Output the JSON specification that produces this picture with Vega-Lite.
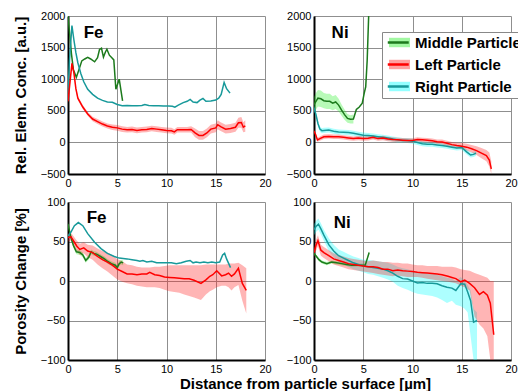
{
"$schema":"https://vega.github.io/schema/vega-lite/v6.json",
"padding":{"left":13,"top":10,"right":0,"bottom":0},
"config":{"font":"Liberation Sans","view":{"stroke":null},
"axis":{"grid":true,"gridColor":"#8f8f8f","gridWidth":1,"domainColor":"black","domainWidth":2,"ticks":false,"labelFontSize":11,"labelColor":"black","labelPadding":3,"labelFlush":false,"labelOverlap":false,"titleFontSize":15,"titleFontWeight":"bold","titleColor":"black","titlePadding":12}},
"datasets":{
"lab":[{"g":"c","p":"Fe","x":2.6,"y":1730},{"g":"c","p":"Ni","x":2.65,"y":1730},{"g":"p","p":"Fe","x":2.9,"y":80},{"g":"p","p":"Ni","x":2.87,"y":73.6}],
"c":[
{"p":"Fe","s":"M","x":0,"y":2000},{"p":"Fe","s":"M","x":0.15,"y":1750},{"p":"Fe","s":"M","x":0.35,"y":1400},{"p":"Fe","s":"M","x":0.55,"y":1150},{"p":"Fe","s":"M","x":0.85,"y":1030},{"p":"Fe","s":"M","x":1.15,"y":1170},{"p":"Fe","s":"M","x":1.4,"y":1290},{"p":"Fe","s":"M","x":1.7,"y":1320},{"p":"Fe","s":"M","x":2.0,"y":1345},{"p":"Fe","s":"M","x":2.3,"y":1320},{"p":"Fe","s":"M","x":2.7,"y":1275},{"p":"Fe","s":"M","x":3.0,"y":1340},{"p":"Fe","s":"M","x":3.2,"y":1470},{"p":"Fe","s":"M","x":3.4,"y":1490},{"p":"Fe","s":"M","x":3.6,"y":1350},{"p":"Fe","s":"M","x":3.8,"y":1430},{"p":"Fe","s":"M","x":3.95,"y":1475},{"p":"Fe","s":"M","x":4.2,"y":1380},{"p":"Fe","s":"M","x":4.45,"y":1340},{"p":"Fe","s":"M","x":4.65,"y":1305},{"p":"Fe","s":"M","x":4.86,"y":842},{"p":"Fe","s":"M","x":5.2,"y":1000},{"p":"Fe","s":"M","x":5.54,"y":658},
{"p":"Fe","s":"R","x":0,"y":780},{"p":"Fe","s":"R","x":0.15,"y":1300},{"p":"Fe","s":"R","x":0.4,"y":1850},{"p":"Fe","s":"R","x":0.6,"y":1620},{"p":"Fe","s":"R","x":0.8,"y":1420},{"p":"Fe","s":"R","x":1.0,"y":1260},{"p":"Fe","s":"R","x":1.3,"y":1090},{"p":"Fe","s":"R","x":1.6,"y":960},{"p":"Fe","s":"R","x":2.0,"y":840},{"p":"Fe","s":"R","x":2.5,"y":760},{"p":"Fe","s":"R","x":3.0,"y":700},{"p":"Fe","s":"R","x":3.5,"y":665},{"p":"Fe","s":"R","x":4.0,"y":640},{"p":"Fe","s":"R","x":4.5,"y":635},{"p":"Fe","s":"R","x":5.0,"y":600},{"p":"Fe","s":"R","x":5.5,"y":580},{"p":"Fe","s":"R","x":6.0,"y":585},{"p":"Fe","s":"R","x":6.5,"y":580},{"p":"Fe","s":"R","x":7.0,"y":580},{"p":"Fe","s":"R","x":7.5,"y":585},{"p":"Fe","s":"R","x":7.8,"y":600},{"p":"Fe","s":"R","x":8.2,"y":585},{"p":"Fe","s":"R","x":8.7,"y":580},{"p":"Fe","s":"R","x":9.2,"y":578},{"p":"Fe","s":"R","x":9.7,"y":575},{"p":"Fe","s":"R","x":10.2,"y":575},{"p":"Fe","s":"R","x":10.6,"y":572},{"p":"Fe","s":"R","x":10.85,"y":558},{"p":"Fe","s":"R","x":11.2,"y":590},{"p":"Fe","s":"R","x":11.7,"y":630},{"p":"Fe","s":"R","x":12.1,"y":650},{"p":"Fe","s":"R","x":12.4,"y":680},{"p":"Fe","s":"R","x":12.7,"y":640},{"p":"Fe","s":"R","x":13.1,"y":630},{"p":"Fe","s":"R","x":13.4,"y":670},{"p":"Fe","s":"R","x":13.7,"y":695},{"p":"Fe","s":"R","x":14.0,"y":650},{"p":"Fe","s":"R","x":14.5,"y":655},{"p":"Fe","s":"R","x":15.0,"y":670},{"p":"Fe","s":"R","x":15.3,"y":700},{"p":"Fe","s":"R","x":15.55,"y":760},{"p":"Fe","s":"R","x":15.85,"y":950},{"p":"Fe","s":"R","x":16.1,"y":850},{"p":"Fe","s":"R","x":16.45,"y":780},
{"p":"Fe","s":"L","x":0,"y":650,"lo":620,"hi":680},{"p":"Fe","s":"L","x":0.2,"y":950,"lo":910,"hi":990},{"p":"Fe","s":"L","x":0.4,"y":1250,"lo":1200,"hi":1300},{"p":"Fe","s":"L","x":0.6,"y":1100,"lo":1060,"hi":1140},{"p":"Fe","s":"L","x":0.8,"y":850,"lo":815,"hi":885},{"p":"Fe","s":"L","x":1.0,"y":700,"lo":670,"hi":730},{"p":"Fe","s":"L","x":1.5,"y":560,"lo":530,"hi":590},{"p":"Fe","s":"L","x":2.0,"y":450,"lo":420,"hi":480},{"p":"Fe","s":"L","x":2.5,"y":370,"lo":335,"hi":405},{"p":"Fe","s":"L","x":3.0,"y":330,"lo":290,"hi":370},{"p":"Fe","s":"L","x":3.5,"y":290,"lo":250,"hi":330},{"p":"Fe","s":"L","x":4.0,"y":260,"lo":220,"hi":300},{"p":"Fe","s":"L","x":4.5,"y":240,"lo":195,"hi":285},{"p":"Fe","s":"L","x":5.0,"y":230,"lo":185,"hi":275},{"p":"Fe","s":"L","x":5.5,"y":210,"lo":165,"hi":255},{"p":"Fe","s":"L","x":6.0,"y":200,"lo":155,"hi":245},{"p":"Fe","s":"L","x":6.5,"y":205,"lo":160,"hi":250},{"p":"Fe","s":"L","x":7.0,"y":190,"lo":145,"hi":235},{"p":"Fe","s":"L","x":7.5,"y":200,"lo":155,"hi":245},{"p":"Fe","s":"L","x":8.0,"y":205,"lo":160,"hi":250},{"p":"Fe","s":"L","x":8.5,"y":220,"lo":175,"hi":265},{"p":"Fe","s":"L","x":9.0,"y":210,"lo":165,"hi":255},{"p":"Fe","s":"L","x":9.5,"y":200,"lo":155,"hi":245},{"p":"Fe","s":"L","x":10.0,"y":190,"lo":145,"hi":235},{"p":"Fe","s":"L","x":10.5,"y":185,"lo":140,"hi":230},{"p":"Fe","s":"L","x":10.8,"y":165,"lo":120,"hi":210},{"p":"Fe","s":"L","x":11.1,"y":200,"lo":155,"hi":245},{"p":"Fe","s":"L","x":11.6,"y":200,"lo":155,"hi":245},{"p":"Fe","s":"L","x":12.1,"y":200,"lo":155,"hi":245},{"p":"Fe","s":"L","x":12.5,"y":205,"lo":155,"hi":255},{"p":"Fe","s":"L","x":12.9,"y":150,"lo":80,"hi":220},{"p":"Fe","s":"L","x":13.3,"y":110,"lo":40,"hi":180},{"p":"Fe","s":"L","x":13.7,"y":110,"lo":40,"hi":180},{"p":"Fe","s":"L","x":14.1,"y":150,"lo":80,"hi":220},{"p":"Fe","s":"L","x":14.5,"y":210,"lo":140,"hi":280},{"p":"Fe","s":"L","x":15.0,"y":230,"lo":160,"hi":300},{"p":"Fe","s":"L","x":15.2,"y":280,"lo":210,"hi":350},{"p":"Fe","s":"L","x":15.5,"y":250,"lo":180,"hi":320},{"p":"Fe","s":"L","x":16.0,"y":210,"lo":140,"hi":280},{"p":"Fe","s":"L","x":16.5,"y":220,"lo":150,"hi":290},{"p":"Fe","s":"L","x":17.0,"y":240,"lo":170,"hi":310},{"p":"Fe","s":"L","x":17.3,"y":310,"lo":230,"hi":390},{"p":"Fe","s":"L","x":17.6,"y":315,"lo":230,"hi":400},{"p":"Fe","s":"L","x":17.8,"y":240,"lo":160,"hi":320},{"p":"Fe","s":"L","x":18.0,"y":260,"lo":170,"hi":350},
{"p":"Ni","s":"M","x":0,"y":600,"lo":480,"hi":720},{"p":"Ni","s":"M","x":0.2,"y":650,"lo":520,"hi":780},{"p":"Ni","s":"M","x":0.4,"y":700,"lo":570,"hi":830},{"p":"Ni","s":"M","x":0.7,"y":690,"lo":560,"hi":820},{"p":"Ni","s":"M","x":1.0,"y":660,"lo":540,"hi":780},{"p":"Ni","s":"M","x":1.3,"y":650,"lo":530,"hi":770},{"p":"Ni","s":"M","x":1.6,"y":650,"lo":530,"hi":770},{"p":"Ni","s":"M","x":1.9,"y":620,"lo":510,"hi":730},{"p":"Ni","s":"M","x":2.2,"y":640,"lo":530,"hi":750},{"p":"Ni","s":"M","x":2.5,"y":590,"lo":490,"hi":690},{"p":"Ni","s":"M","x":2.8,"y":510,"lo":420,"hi":600},{"p":"Ni","s":"M","x":3.1,"y":440,"lo":360,"hi":520},{"p":"Ni","s":"M","x":3.4,"y":380,"lo":310,"hi":450},{"p":"Ni","s":"M","x":3.7,"y":365,"lo":300,"hi":430},{"p":"Ni","s":"M","x":4.0,"y":370,"lo":300,"hi":440},{"p":"Ni","s":"M","x":4.3,"y":520},{"p":"Ni","s":"M","x":4.6,"y":560},{"p":"Ni","s":"M","x":4.9,"y":620},{"p":"Ni","s":"M","x":5.1,"y":780},{"p":"Ni","s":"M","x":5.25,"y":880},{"p":"Ni","s":"M","x":5.4,"y":1300},{"p":"Ni","s":"M","x":5.55,"y":2000},{"p":"Ni","s":"M","x":5.6,"y":2200},
{"p":"Ni","s":"R","x":0,"y":550,"lo":510,"hi":590},{"p":"Ni","s":"R","x":0.2,"y":440,"lo":400,"hi":480},{"p":"Ni","s":"R","x":0.4,"y":300,"lo":260,"hi":340},{"p":"Ni","s":"R","x":0.6,"y":210,"lo":170,"hi":250},{"p":"Ni","s":"R","x":0.8,"y":185,"lo":145,"hi":225},{"p":"Ni","s":"R","x":1.0,"y":190,"lo":150,"hi":230},{"p":"Ni","s":"R","x":1.5,"y":195,"lo":155,"hi":235},{"p":"Ni","s":"R","x":2.0,"y":175,"lo":135,"hi":215},{"p":"Ni","s":"R","x":2.5,"y":165,"lo":125,"hi":205},{"p":"Ni","s":"R","x":3.0,"y":160,"lo":120,"hi":200},{"p":"Ni","s":"R","x":3.5,"y":155,"lo":115,"hi":195},{"p":"Ni","s":"R","x":4.0,"y":145,"lo":105,"hi":185},{"p":"Ni","s":"R","x":4.5,"y":130,"lo":90,"hi":170},{"p":"Ni","s":"R","x":5.0,"y":115,"lo":75,"hi":155},{"p":"Ni","s":"R","x":5.5,"y":110,"lo":70,"hi":150},{"p":"Ni","s":"R","x":6.0,"y":100,"lo":60,"hi":140},{"p":"Ni","s":"R","x":6.5,"y":90,"lo":50,"hi":130},{"p":"Ni","s":"R","x":7.0,"y":80,"lo":40,"hi":120},{"p":"Ni","s":"R","x":7.5,"y":70,"lo":30,"hi":110},{"p":"Ni","s":"R","x":8.0,"y":55,"lo":15,"hi":95},{"p":"Ni","s":"R","x":8.5,"y":40,"lo":0,"hi":80},{"p":"Ni","s":"R","x":9.0,"y":30,"lo":-10,"hi":70},{"p":"Ni","s":"R","x":9.5,"y":30,"lo":-10,"hi":70},{"p":"Ni","s":"R","x":10.0,"y":20,"lo":-20,"hi":60},{"p":"Ni","s":"R","x":10.5,"y":0,"lo":-40,"hi":40},{"p":"Ni","s":"R","x":11.0,"y":-20,"lo":-60,"hi":20},{"p":"Ni","s":"R","x":11.5,"y":-30,"lo":-70,"hi":10},{"p":"Ni","s":"R","x":12.0,"y":-30,"lo":-70,"hi":10},{"p":"Ni","s":"R","x":12.5,"y":-40,"lo":-80,"hi":0},{"p":"Ni","s":"R","x":13.0,"y":-50,"lo":-90,"hi":-10},{"p":"Ni","s":"R","x":13.5,"y":-60,"lo":-100,"hi":-20},{"p":"Ni","s":"R","x":14.0,"y":-75,"lo":-115,"hi":-35},{"p":"Ni","s":"R","x":14.5,"y":-90,"lo":-130,"hi":-50},{"p":"Ni","s":"R","x":15.0,"y":-80,"lo":-120,"hi":-40},{"p":"Ni","s":"R","x":15.5,"y":-150,"lo":-190,"hi":-110},{"p":"Ni","s":"R","x":15.9,"y":-200,"lo":-240,"hi":-160},{"p":"Ni","s":"R","x":16.2,"y":-190,"lo":-230,"hi":-150},{"p":"Ni","s":"R","x":16.45,"y":-170,"lo":-210,"hi":-130},
{"p":"Ni","s":"L","x":0,"y":180,"lo":150,"hi":210},{"p":"Ni","s":"L","x":0.15,"y":130,"lo":100,"hi":160},{"p":"Ni","s":"L","x":0.35,"y":40,"lo":10,"hi":70},{"p":"Ni","s":"L","x":0.6,"y":60,"lo":25,"hi":95},{"p":"Ni","s":"L","x":1.0,"y":90,"lo":55,"hi":125},{"p":"Ni","s":"L","x":1.5,"y":95,"lo":60,"hi":130},{"p":"Ni","s":"L","x":2.0,"y":90,"lo":55,"hi":125},{"p":"Ni","s":"L","x":2.5,"y":90,"lo":55,"hi":125},{"p":"Ni","s":"L","x":3.0,"y":80,"lo":45,"hi":115},{"p":"Ni","s":"L","x":3.5,"y":70,"lo":35,"hi":105},{"p":"Ni","s":"L","x":4.0,"y":60,"lo":25,"hi":95},{"p":"Ni","s":"L","x":4.5,"y":70,"lo":35,"hi":105},{"p":"Ni","s":"L","x":5.0,"y":60,"lo":25,"hi":95},{"p":"Ni","s":"L","x":5.5,"y":65,"lo":30,"hi":100},{"p":"Ni","s":"L","x":6.0,"y":80,"lo":45,"hi":115},{"p":"Ni","s":"L","x":6.5,"y":60,"lo":25,"hi":95},{"p":"Ni","s":"L","x":7.0,"y":70,"lo":35,"hi":105},{"p":"Ni","s":"L","x":7.5,"y":55,"lo":20,"hi":90},{"p":"Ni","s":"L","x":8.0,"y":45,"lo":10,"hi":80},{"p":"Ni","s":"L","x":8.5,"y":40,"lo":5,"hi":75},{"p":"Ni","s":"L","x":9.0,"y":35,"lo":0,"hi":70},{"p":"Ni","s":"L","x":9.5,"y":30,"lo":-5,"hi":65},{"p":"Ni","s":"L","x":10.0,"y":30,"lo":-5,"hi":65},{"p":"Ni","s":"L","x":10.5,"y":45,"lo":10,"hi":80},{"p":"Ni","s":"L","x":11.0,"y":40,"lo":5,"hi":75},{"p":"Ni","s":"L","x":11.5,"y":35,"lo":0,"hi":70},{"p":"Ni","s":"L","x":12.0,"y":25,"lo":-10,"hi":60},{"p":"Ni","s":"L","x":12.5,"y":10,"lo":-25,"hi":45},{"p":"Ni","s":"L","x":13.0,"y":5,"lo":-35,"hi":45},{"p":"Ni","s":"L","x":13.5,"y":-15,"lo":-55,"hi":25},{"p":"Ni","s":"L","x":14.0,"y":-35,"lo":-75,"hi":5},{"p":"Ni","s":"L","x":14.5,"y":-50,"lo":-95,"hi":-5},{"p":"Ni","s":"L","x":15.0,"y":-60,"lo":-110,"hi":-10},{"p":"Ni","s":"L","x":15.5,"y":-75,"lo":-130,"hi":-20},{"p":"Ni","s":"L","x":16.0,"y":-100,"lo":-160,"hi":-40},{"p":"Ni","s":"L","x":16.5,"y":-130,"lo":-200,"hi":-60},{"p":"Ni","s":"L","x":17.0,"y":-170,"lo":-250,"hi":-90},{"p":"Ni","s":"L","x":17.5,"y":-210,"lo":-300,"hi":-120},{"p":"Ni","s":"L","x":17.8,"y":-280,"lo":-380,"hi":-160},{"p":"Ni","s":"L","x":18.0,"y":-420,"lo":-500,"hi":-300}
],
"p":[
{"p":"Fe","s":"M","x":0,"y":72,"lo":69,"hi":75},{"p":"Fe","s":"M","x":0.3,"y":55,"lo":52,"hi":58},{"p":"Fe","s":"M","x":0.55,"y":45,"lo":42,"hi":48},{"p":"Fe","s":"M","x":0.85,"y":37,"lo":34,"hi":40},{"p":"Fe","s":"M","x":1.2,"y":36,"lo":33,"hi":39},{"p":"Fe","s":"M","x":1.5,"y":33,"lo":30,"hi":36},{"p":"Fe","s":"M","x":1.8,"y":26,"lo":23,"hi":29},{"p":"Fe","s":"M","x":2.1,"y":30,"lo":27,"hi":33},{"p":"Fe","s":"M","x":2.35,"y":37,"lo":34,"hi":40},{"p":"Fe","s":"M","x":2.6,"y":35,"lo":32,"hi":38},{"p":"Fe","s":"M","x":2.9,"y":34,"lo":31,"hi":37},{"p":"Fe","s":"M","x":3.3,"y":31,"lo":28,"hi":34},{"p":"Fe","s":"M","x":3.7,"y":28,"lo":25,"hi":31},{"p":"Fe","s":"M","x":4.0,"y":25,"lo":22,"hi":28},{"p":"Fe","s":"M","x":4.4,"y":22,"lo":19,"hi":25},{"p":"Fe","s":"M","x":4.8,"y":20,"lo":17,"hi":23},{"p":"Fe","s":"M","x":5.0,"y":17,"lo":14,"hi":20},{"p":"Fe","s":"M","x":5.2,"y":22,"lo":19,"hi":25},{"p":"Fe","s":"M","x":5.4,"y":24,"lo":21,"hi":27},{"p":"Fe","s":"M","x":5.6,"y":23,"lo":20,"hi":26},
{"p":"Fe","s":"R","x":0,"y":57},{"p":"Fe","s":"R","x":0.3,"y":62},{"p":"Fe","s":"R","x":0.65,"y":70},{"p":"Fe","s":"R","x":1.05,"y":74},{"p":"Fe","s":"R","x":1.5,"y":70},{"p":"Fe","s":"R","x":2.0,"y":60},{"p":"Fe","s":"R","x":2.7,"y":49},{"p":"Fe","s":"R","x":3.35,"y":41},{"p":"Fe","s":"R","x":4.0,"y":35},{"p":"Fe","s":"R","x":4.7,"y":31},{"p":"Fe","s":"R","x":5.2,"y":29},{"p":"Fe","s":"R","x":6.0,"y":28},{"p":"Fe","s":"R","x":6.5,"y":27},{"p":"Fe","s":"R","x":7.0,"y":26},{"p":"Fe","s":"R","x":7.3,"y":25},{"p":"Fe","s":"R","x":7.6,"y":26},{"p":"Fe","s":"R","x":8.0,"y":24},{"p":"Fe","s":"R","x":8.5,"y":25},{"p":"Fe","s":"R","x":9.0,"y":23},{"p":"Fe","s":"R","x":9.5,"y":23},{"p":"Fe","s":"R","x":10.0,"y":23},{"p":"Fe","s":"R","x":10.5,"y":23},{"p":"Fe","s":"R","x":11.0,"y":22},{"p":"Fe","s":"R","x":11.5,"y":23},{"p":"Fe","s":"R","x":12.0,"y":25},{"p":"Fe","s":"R","x":12.4,"y":26},{"p":"Fe","s":"R","x":12.7,"y":23},{"p":"Fe","s":"R","x":13.0,"y":24},{"p":"Fe","s":"R","x":13.4,"y":23},{"p":"Fe","s":"R","x":13.8,"y":24},{"p":"Fe","s":"R","x":14.2,"y":23},{"p":"Fe","s":"R","x":14.6,"y":24},{"p":"Fe","s":"R","x":15.0,"y":23},{"p":"Fe","s":"R","x":15.4,"y":24},{"p":"Fe","s":"R","x":15.7,"y":33},{"p":"Fe","s":"R","x":15.9,"y":35},{"p":"Fe","s":"R","x":16.1,"y":28},{"p":"Fe","s":"R","x":16.5,"y":17},
{"p":"Fe","s":"L","x":0,"y":55,"lo":50,"hi":60},{"p":"Fe","s":"L","x":0.3,"y":56,"lo":51,"hi":61},{"p":"Fe","s":"L","x":0.6,"y":50,"lo":44,"hi":56},{"p":"Fe","s":"L","x":0.9,"y":44,"lo":37,"hi":51},{"p":"Fe","s":"L","x":1.2,"y":40,"lo":33,"hi":47},{"p":"Fe","s":"L","x":1.6,"y":42,"lo":35,"hi":49},{"p":"Fe","s":"L","x":2.0,"y":38,"lo":30,"hi":46},{"p":"Fe","s":"L","x":2.5,"y":36,"lo":27,"hi":45},{"p":"Fe","s":"L","x":3.0,"y":31,"lo":21,"hi":41},{"p":"Fe","s":"L","x":3.5,"y":27,"lo":16,"hi":38},{"p":"Fe","s":"L","x":4.0,"y":24,"lo":12,"hi":36},{"p":"Fe","s":"L","x":4.5,"y":20,"lo":7,"hi":33},{"p":"Fe","s":"L","x":5.0,"y":15,"lo":2,"hi":28},{"p":"Fe","s":"L","x":5.5,"y":12,"lo":-1,"hi":25},{"p":"Fe","s":"L","x":6.0,"y":9,"lo":-3,"hi":21},{"p":"Fe","s":"L","x":6.5,"y":9,"lo":-4,"hi":20},{"p":"Fe","s":"L","x":7.0,"y":8,"lo":-6,"hi":18},{"p":"Fe","s":"L","x":7.5,"y":9,"lo":-7,"hi":17},{"p":"Fe","s":"L","x":8.0,"y":9,"lo":-8,"hi":17},{"p":"Fe","s":"L","x":8.3,"y":11,"lo":-8,"hi":17},{"p":"Fe","s":"L","x":8.8,"y":8,"lo":-8,"hi":18},{"p":"Fe","s":"L","x":9.3,"y":7,"lo":-9,"hi":18},{"p":"Fe","s":"L","x":9.8,"y":5,"lo":-11,"hi":19},{"p":"Fe","s":"L","x":10.3,"y":4.5,"lo":-13,"hi":20},{"p":"Fe","s":"L","x":10.8,"y":4,"lo":-14,"hi":20},{"p":"Fe","s":"L","x":11.3,"y":3.6,"lo":-15,"hi":20},{"p":"Fe","s":"L","x":11.8,"y":3,"lo":-17,"hi":20},{"p":"Fe","s":"L","x":12.3,"y":2.7,"lo":-19,"hi":20},{"p":"Fe","s":"L","x":12.8,"y":1,"lo":-21,"hi":20},{"p":"Fe","s":"L","x":13.5,"y":-3,"lo":-24,"hi":20},{"p":"Fe","s":"L","x":14.0,"y":1.5,"lo":-17,"hi":21},{"p":"Fe","s":"L","x":14.4,"y":6,"lo":-13,"hi":21},{"p":"Fe","s":"L","x":14.7,"y":8,"lo":-11,"hi":21},{"p":"Fe","s":"L","x":15.1,"y":13,"lo":-8,"hi":21},{"p":"Fe","s":"L","x":15.6,"y":6.5,"lo":-6,"hi":21},{"p":"Fe","s":"L","x":16.0,"y":8,"lo":-6,"hi":21},{"p":"Fe","s":"L","x":16.3,"y":10,"lo":-8,"hi":22},{"p":"Fe","s":"L","x":16.6,"y":6,"lo":-12,"hi":22},{"p":"Fe","s":"L","x":16.9,"y":9,"lo":-8,"hi":22},{"p":"Fe","s":"L","x":17.3,"y":16,"lo":-5,"hi":23},{"p":"Fe","s":"L","x":17.7,"y":-3,"lo":-25,"hi":20},{"p":"Fe","s":"L","x":18.1,"y":-12,"lo":-41,"hi":16},
{"p":"Ni","s":"M","x":0,"y":35,"lo":33,"hi":37},{"p":"Ni","s":"M","x":0.25,"y":31,"lo":29,"hi":33},{"p":"Ni","s":"M","x":0.5,"y":27,"lo":25,"hi":29},{"p":"Ni","s":"M","x":0.8,"y":24,"lo":22,"hi":26},{"p":"Ni","s":"M","x":1.3,"y":22,"lo":20,"hi":24},{"p":"Ni","s":"M","x":1.8,"y":24,"lo":22,"hi":26},{"p":"Ni","s":"M","x":2.3,"y":23,"lo":21,"hi":25},{"p":"Ni","s":"M","x":2.8,"y":22,"lo":20,"hi":24},{"p":"Ni","s":"M","x":3.3,"y":21,"lo":19,"hi":23},{"p":"Ni","s":"M","x":3.8,"y":20,"lo":18,"hi":22},{"p":"Ni","s":"M","x":4.3,"y":20,"lo":18,"hi":22},{"p":"Ni","s":"M","x":4.8,"y":20,"lo":18,"hi":22},{"p":"Ni","s":"M","x":5.2,"y":20,"lo":18,"hi":22},{"p":"Ni","s":"M","x":5.4,"y":28,"lo":26,"hi":30},{"p":"Ni","s":"M","x":5.6,"y":36,"lo":34,"hi":38},
{"p":"Ni","s":"R","x":0,"y":65,"lo":58,"hi":72},{"p":"Ni","s":"R","x":0.2,"y":69,"lo":62,"hi":76},{"p":"Ni","s":"R","x":0.45,"y":72,"lo":65,"hi":79},{"p":"Ni","s":"R","x":0.7,"y":66,"lo":59,"hi":73},{"p":"Ni","s":"R","x":1.0,"y":58,"lo":51,"hi":65},{"p":"Ni","s":"R","x":1.5,"y":46,"lo":38,"hi":54},{"p":"Ni","s":"R","x":2.0,"y":38,"lo":30,"hi":46},{"p":"Ni","s":"R","x":2.5,"y":32,"lo":24,"hi":40},{"p":"Ni","s":"R","x":3.0,"y":29,"lo":21,"hi":37},{"p":"Ni","s":"R","x":3.5,"y":26,"lo":18,"hi":34},{"p":"Ni","s":"R","x":4.0,"y":23,"lo":15,"hi":31},{"p":"Ni","s":"R","x":4.5,"y":21,"lo":13,"hi":29},{"p":"Ni","s":"R","x":5.0,"y":19,"lo":11,"hi":27},{"p":"Ni","s":"R","x":5.5,"y":18,"lo":9,"hi":27},{"p":"Ni","s":"R","x":6.0,"y":17,"lo":8,"hi":26},{"p":"Ni","s":"R","x":6.5,"y":16,"lo":6,"hi":25},{"p":"Ni","s":"R","x":7.0,"y":15,"lo":4,"hi":24},{"p":"Ni","s":"R","x":7.5,"y":13,"lo":2,"hi":23},{"p":"Ni","s":"R","x":8.0,"y":10,"lo":-1,"hi":21},{"p":"Ni","s":"R","x":8.5,"y":6,"lo":-6,"hi":18},{"p":"Ni","s":"R","x":9.0,"y":3,"lo":-9,"hi":16},{"p":"Ni","s":"R","x":9.5,"y":2.5,"lo":-11,"hi":15},{"p":"Ni","s":"R","x":10.0,"y":0,"lo":-14,"hi":13},{"p":"Ni","s":"R","x":10.5,"y":-2.5,"lo":-16,"hi":11},{"p":"Ni","s":"R","x":11.0,"y":-2,"lo":-17,"hi":11},{"p":"Ni","s":"R","x":11.5,"y":-3,"lo":-18,"hi":10},{"p":"Ni","s":"R","x":12.0,"y":-3,"lo":-19,"hi":10},{"p":"Ni","s":"R","x":12.5,"y":-3.5,"lo":-21,"hi":8},{"p":"Ni","s":"R","x":13.0,"y":-6,"lo":-24,"hi":6},{"p":"Ni","s":"R","x":13.5,"y":-8,"lo":-28,"hi":4},{"p":"Ni","s":"R","x":14.0,"y":-9,"lo":-25,"hi":3},{"p":"Ni","s":"R","x":14.4,"y":-12,"lo":-30,"hi":0},{"p":"Ni","s":"R","x":14.9,"y":-3.5,"lo":-32,"hi":5},{"p":"Ni","s":"R","x":15.3,"y":-4,"lo":-35,"hi":0},{"p":"Ni","s":"R","x":15.6,"y":-14,"lo":-40,"hi":-5},{"p":"Ni","s":"R","x":15.9,"y":-25,"lo":-70,"hi":-12},{"p":"Ni","s":"R","x":16.2,"y":-52,"lo":-100,"hi":-35},{"p":"Ni","s":"R","x":16.55,"y":-50,"lo":-100,"hi":-40},
{"p":"Ni","s":"L","x":0,"y":36,"lo":30,"hi":42},{"p":"Ni","s":"L","x":0.2,"y":45,"lo":38,"hi":52},{"p":"Ni","s":"L","x":0.4,"y":51,"lo":44,"hi":58},{"p":"Ni","s":"L","x":0.7,"y":39,"lo":32,"hi":46},{"p":"Ni","s":"L","x":1.0,"y":36,"lo":29,"hi":43},{"p":"Ni","s":"L","x":1.5,"y":32,"lo":25,"hi":39},{"p":"Ni","s":"L","x":2.0,"y":28,"lo":21,"hi":35},{"p":"Ni","s":"L","x":2.5,"y":26,"lo":19,"hi":33},{"p":"Ni","s":"L","x":3.0,"y":24,"lo":17,"hi":31},{"p":"Ni","s":"L","x":3.5,"y":22,"lo":15,"hi":29},{"p":"Ni","s":"L","x":4.0,"y":21,"lo":14,"hi":28},{"p":"Ni","s":"L","x":4.5,"y":20,"lo":13,"hi":27},{"p":"Ni","s":"L","x":5.0,"y":19,"lo":12,"hi":26},{"p":"Ni","s":"L","x":5.5,"y":18,"lo":11,"hi":25},{"p":"Ni","s":"L","x":6.0,"y":18,"lo":10,"hi":26},{"p":"Ni","s":"L","x":6.5,"y":17,"lo":9,"hi":25},{"p":"Ni","s":"L","x":7.0,"y":15,"lo":8,"hi":24},{"p":"Ni","s":"L","x":7.5,"y":15,"lo":7,"hi":24},{"p":"Ni","s":"L","x":8.0,"y":13,"lo":6,"hi":23},{"p":"Ni","s":"L","x":8.5,"y":14,"lo":7,"hi":23},{"p":"Ni","s":"L","x":9.0,"y":13,"lo":6,"hi":22},{"p":"Ni","s":"L","x":9.5,"y":12.5,"lo":5,"hi":22},{"p":"Ni","s":"L","x":10.0,"y":12,"lo":5,"hi":21},{"p":"Ni","s":"L","x":10.5,"y":11,"lo":5,"hi":20},{"p":"Ni","s":"L","x":11.0,"y":10.5,"lo":4,"hi":20},{"p":"Ni","s":"L","x":11.5,"y":10,"lo":3,"hi":19},{"p":"Ni","s":"L","x":12.0,"y":9.5,"lo":2,"hi":19},{"p":"Ni","s":"L","x":12.5,"y":9,"lo":1,"hi":19},{"p":"Ni","s":"L","x":13.0,"y":8,"lo":0,"hi":18},{"p":"Ni","s":"L","x":13.6,"y":6,"lo":-1,"hi":18},{"p":"Ni","s":"L","x":14.0,"y":4.5,"lo":-2,"hi":18},{"p":"Ni","s":"L","x":14.4,"y":3,"lo":-3,"hi":17},{"p":"Ni","s":"L","x":14.9,"y":-1,"lo":-6,"hi":15},{"p":"Ni","s":"L","x":15.3,"y":1,"lo":-8,"hi":14},{"p":"Ni","s":"L","x":15.8,"y":-3,"lo":-12,"hi":13},{"p":"Ni","s":"L","x":16.3,"y":-8.5,"lo":-45,"hi":10},{"p":"Ni","s":"L","x":16.8,"y":-17,"lo":-55,"hi":8},{"p":"Ni","s":"L","x":17.2,"y":-13.5,"lo":-60,"hi":6},{"p":"Ni","s":"L","x":17.6,"y":-18,"lo":-70,"hi":4},{"p":"Ni","s":"L","x":17.9,"y":-28,"lo":-100,"hi":0},{"p":"Ni","s":"L","x":18.25,"y":-68,"lo":-100,"hi":0}
]},
"columns":2,
"spacing":{"row":28,"column":49},
"bounds":"flush",
"resolve":{"scale":{"x":"independent","y":"independent"},"legend":{"fill":"independent","stroke":"independent"}},
"concat":[
{"width":197,"height":158,"layer":[
{"data":{"name":"c"},"transform":[{"filter":"datum.p=='Fe' && isValid(datum.lo)"}],"mark":{"type":"area","clip":true,"fillOpacity":0.32},"encoding":{"x":{"field":"x","type":"quantitative","scale":{"domain":[0,20],"nice":false},"axis":{"values":[0,5,10,15,20],"title":null}},"y":{"field":"lo","type":"quantitative","scale":{"domain":[-500,2000],"nice":false},"axis":{"values":[-500,0,500,1000,1500,2000],"format":"d","title":"Rel. Elem. Conc. [a.u.]"}},"y2":{"field":"hi"},"fill":{"field":"s","type":"nominal","scale":{"domain":["M","L","R"],"range":["#22ee22","#ff1a1a","#00ffff"]},"legend":null}}},
{"data":{"name":"c"},"transform":[{"filter":"datum.p=='Fe'"}],"mark":{"type":"line","clip":true,"strokeWidth":1.5},"encoding":{"x":{"field":"x","type":"quantitative","scale":{"domain":[0,20],"nice":false},"axis":{"values":[0,5,10,15,20],"title":null}},"y":{"field":"y","type":"quantitative","scale":{"domain":[-500,2000],"nice":false},"axis":{"values":[-500,0,500,1000,1500,2000],"format":"d","title":"Rel. Elem. Conc. [a.u.]"}},"stroke":{"field":"s","type":"nominal","scale":{"domain":["M","L","R","Z"],"range":["#1c7a1c","#ff0000","#17999a","#000000"]},"legend":null}}},
{"data":{"name":"lab"},"transform":[{"filter":"datum.g=='c' && datum.p=='Fe'"}],"mark":{"type":"text","fontSize":17,"fontWeight":"bold","color":"black"},"encoding":{"x":{"field":"x","type":"quantitative","scale":{"domain":[0,20],"nice":false},"axis":{"values":[0,5,10,15,20],"title":null}},"y":{"field":"y","type":"quantitative","scale":{"domain":[-500,2000],"nice":false},"axis":{"values":[-500,0,500,1000,1500,2000],"format":"d","title":"Rel. Elem. Conc. [a.u.]"}},"text":{"field":"p"}}}
]},
{"width":197,"height":158,"layer":[
{"data":{"name":"c"},"transform":[{"filter":"datum.p=='Ni' && isValid(datum.lo)"}],"mark":{"type":"area","clip":true,"fillOpacity":0.32},"encoding":{"x":{"field":"x","type":"quantitative","scale":{"domain":[0,20],"nice":false},"axis":{"values":[0,5,10,15,20],"title":null}},"y":{"field":"lo","type":"quantitative","scale":{"domain":[-500,2000],"nice":false},"axis":{"values":[-500,0,500,1000,1500,2000],"format":"d","title":null}},"y2":{"field":"hi"},"fill":{"field":"s","type":"nominal","scale":{"domain":["M","L","R"],"range":["#22ee22","#ff1a1a","#00ffff"]},"legend":{"orient":"none","legendX":68,"legendY":16,"zindex":0,"title":null,"symbolType":"M-2,-0.9H2V0.9H-2Z","symbolSize":110,"symbolOffset":7,"symbolOpacity":0.42,"symbolStrokeWidth":0,"labelFontSize":15,"labelFontWeight":"bold","labelColor":"black","labelOffset":8,"rowPadding":6,"padding":3,"fillColor":"white","strokeColor":"#888888","labelExpr":"datum.label=='M' ? 'Middle Particle' : datum.label=='L' ? 'Left Particle' : 'Right Particle'"}}}},
{"data":{"name":"c"},"transform":[{"filter":"datum.p=='Ni'"}],"mark":{"type":"line","clip":true,"strokeWidth":1.5},"encoding":{"x":{"field":"x","type":"quantitative","scale":{"domain":[0,20],"nice":false},"axis":{"values":[0,5,10,15,20],"title":null}},"y":{"field":"y","type":"quantitative","scale":{"domain":[-500,2000],"nice":false},"axis":{"values":[-500,0,500,1000,1500,2000],"format":"d","title":null}},"stroke":{"field":"s","type":"nominal","scale":{"domain":["M","L","R","Z"],"range":["#1c7a1c","#ff0000","#17999a","#000000"]},"legend":{"orient":"none","legendX":68,"legendY":16,"zindex":1,"values":["M","L","R"],"title":null,"symbolType":"M-2,0H2","symbolSize":110,"symbolOffset":5.75,"symbolFillColor":"transparent","symbolStrokeWidth":2.5,"labelFontSize":15,"labelFontWeight":"bold","labelOpacity":0,"labelOffset":8,"rowPadding":6,"padding":3,"labelExpr":"datum.label=='M' ? 'Middle Particle' : datum.label=='L' ? 'Left Particle' : 'Right Particle'"}}}},
{"data":{"name":"lab"},"transform":[{"filter":"datum.g=='c' && datum.p=='Ni'"}],"mark":{"type":"text","fontSize":17,"fontWeight":"bold","color":"black"},"encoding":{"x":{"field":"x","type":"quantitative","scale":{"domain":[0,20],"nice":false},"axis":{"values":[0,5,10,15,20],"title":null}},"y":{"field":"y","type":"quantitative","scale":{"domain":[-500,2000],"nice":false},"axis":{"values":[-500,0,500,1000,1500,2000],"format":"d","title":null}},"text":{"field":"p"}}}
]},
{"width":197,"height":158,"layer":[
{"data":{"name":"p"},"transform":[{"filter":"datum.p=='Fe' && isValid(datum.lo)"}],"mark":{"type":"area","clip":true,"fillOpacity":0.32},"encoding":{"x":{"field":"x","type":"quantitative","scale":{"domain":[0,20],"nice":false},"axis":{"values":[0,5,10,15,20],"title":"Distance from particle surface [µm]","titleX":237,"titleY":23,"titleBaseline":"middle","titleAlign":"center","titleFontSize":15}},"y":{"field":"lo","type":"quantitative","scale":{"domain":[-100,100],"nice":false},"axis":{"values":[-100,-50,0,50,100],"format":"d","title":"Porosity Change [%]"}},"y2":{"field":"hi"},"fill":{"field":"s","type":"nominal","scale":{"domain":["M","L","R"],"range":["#22ee22","#ff1a1a","#00ffff"]},"legend":null}}},
{"data":{"name":"p"},"transform":[{"filter":"datum.p=='Fe'"}],"mark":{"type":"line","clip":true,"strokeWidth":1.5},"encoding":{"x":{"field":"x","type":"quantitative","scale":{"domain":[0,20],"nice":false},"axis":{"values":[0,5,10,15,20],"title":"Distance from particle surface [µm]","titleX":237,"titleY":23,"titleBaseline":"middle","titleAlign":"center","titleFontSize":15}},"y":{"field":"y","type":"quantitative","scale":{"domain":[-100,100],"nice":false},"axis":{"values":[-100,-50,0,50,100],"format":"d","title":"Porosity Change [%]"}},"stroke":{"field":"s","type":"nominal","scale":{"domain":["M","L","R","Z"],"range":["#1c7a1c","#ff0000","#17999a","#000000"]},"legend":null}}},
{"data":{"name":"lab"},"transform":[{"filter":"datum.g=='p' && datum.p=='Fe'"}],"mark":{"type":"text","fontSize":17,"fontWeight":"bold","color":"black"},"encoding":{"x":{"field":"x","type":"quantitative","scale":{"domain":[0,20],"nice":false},"axis":{"values":[0,5,10,15,20],"title":"Distance from particle surface [µm]","titleX":237,"titleY":23,"titleBaseline":"middle","titleAlign":"center","titleFontSize":15}},"y":{"field":"y","type":"quantitative","scale":{"domain":[-100,100],"nice":false},"axis":{"values":[-100,-50,0,50,100],"format":"d","title":"Porosity Change [%]"}},"text":{"field":"p"}}}
]},
{"width":197,"height":158,"layer":[
{"data":{"name":"p"},"transform":[{"filter":"datum.p=='Ni' && isValid(datum.lo)"}],"mark":{"type":"area","clip":true,"fillOpacity":0.32},"encoding":{"x":{"field":"x","type":"quantitative","scale":{"domain":[0,20],"nice":false},"axis":{"values":[0,5,10,15,20],"title":null}},"y":{"field":"lo","type":"quantitative","scale":{"domain":[-100,100],"nice":false},"axis":{"values":[-100,-50,0,50,100],"format":"d","title":null}},"y2":{"field":"hi"},"fill":{"field":"s","type":"nominal","scale":{"domain":["M","L","R"],"range":["#22ee22","#ff1a1a","#00ffff"]},"legend":null}}},
{"data":{"name":"p"},"transform":[{"filter":"datum.p=='Ni'"}],"mark":{"type":"line","clip":true,"strokeWidth":1.5},"encoding":{"x":{"field":"x","type":"quantitative","scale":{"domain":[0,20],"nice":false},"axis":{"values":[0,5,10,15,20],"title":null}},"y":{"field":"y","type":"quantitative","scale":{"domain":[-100,100],"nice":false},"axis":{"values":[-100,-50,0,50,100],"format":"d","title":null}},"stroke":{"field":"s","type":"nominal","scale":{"domain":["M","L","R","Z"],"range":["#1c7a1c","#ff0000","#17999a","#000000"]},"legend":null}}},
{"data":{"name":"lab"},"transform":[{"filter":"datum.g=='p' && datum.p=='Ni'"}],"mark":{"type":"text","fontSize":17,"fontWeight":"bold","color":"black"},"encoding":{"x":{"field":"x","type":"quantitative","scale":{"domain":[0,20],"nice":false},"axis":{"values":[0,5,10,15,20],"title":null}},"y":{"field":"y","type":"quantitative","scale":{"domain":[-100,100],"nice":false},"axis":{"values":[-100,-50,0,50,100],"format":"d","title":null}},"text":{"field":"p"}}}
]}
]
}
